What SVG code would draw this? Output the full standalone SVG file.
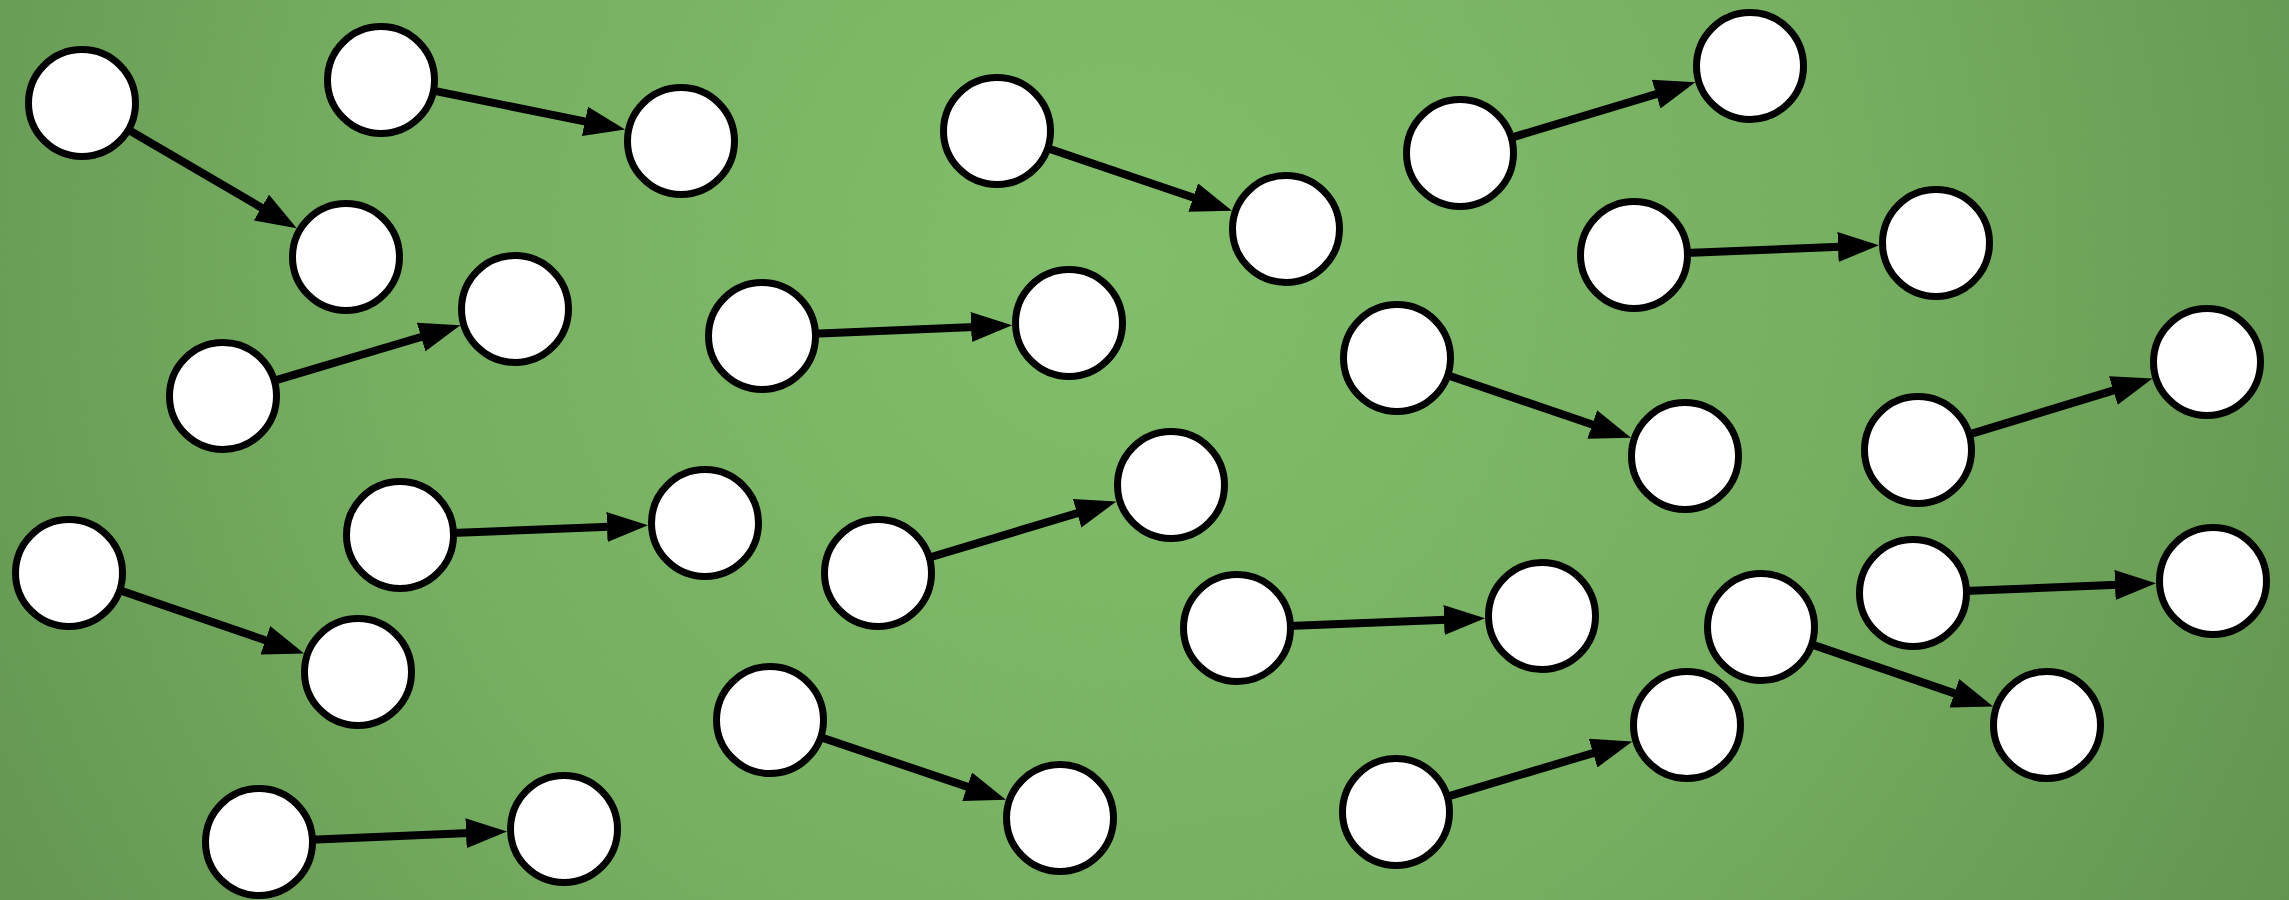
<svg xmlns="http://www.w3.org/2000/svg" width="2289" height="900" viewBox="0 0 2289 900">
<defs>
<radialGradient id="bg" cx="1120" cy="260" r="1350" gradientUnits="userSpaceOnUse">
<stop offset="0" stop-color="#80c168"/>
<stop offset="0.55" stop-color="#74b05e"/>
<stop offset="1" stop-color="#5f934c"/>
</radialGradient>
<filter id="noise" x="0" y="0" width="100%" height="100%">
<feTurbulence type="fractalNoise" baseFrequency="0.9" numOctaves="2" seed="3" result="t"/>
<feColorMatrix in="t" type="matrix" values="0 0 0 0 0.3  0 0 0 0 0.35  0 0 0 0 0.25  0 0 0 0.35 0"/>
</filter>
<marker id="arrow" markerUnits="userSpaceOnUse" markerWidth="41" markerHeight="30" refX="21" refY="15" orient="auto">
<path d="M0,0 L41,15 L0,30 z" fill="#000"/>
</marker>
<style>
.node{fill:#fff;stroke:#000;stroke-width:7}
.edge{stroke:#000;stroke-width:8;fill:none;marker-end:url(#arrow)}
</style>
</defs>
<rect width="2289" height="900" fill="url(#bg)"/>
<rect width="2289" height="900" filter="url(#noise)" opacity="0.35"/>
<g id="connectors">
<line class="edge" x1="127" y1="129" x2="279.5" y2="218.2"/>
<line class="edge" x1="432" y1="90.4" x2="605.5" y2="125.6"/>
<line class="edge" x1="272.8" y1="381.2" x2="441.2" y2="331"/>
<line class="edge" x1="814" y1="333.8" x2="992.1" y2="326.2"/>
<line class="edge" x1="1046.2" y1="147.7" x2="1213.1" y2="204.3"/>
<line class="edge" x1="1509.8" y1="138.1" x2="1676.2" y2="88.1"/>
<line class="edge" x1="1686" y1="252.9" x2="1859" y2="246.1"/>
<line class="edge" x1="1446.2" y1="374.8" x2="1612.1" y2="431.3"/>
<line class="edge" x1="1967.7" y1="434.9" x2="2133.4" y2="384.4"/>
<line class="edge" x1="452" y1="533" x2="628" y2="526.1"/>
<line class="edge" x1="118.2" y1="589.8" x2="285.2" y2="647.1"/>
<line class="edge" x1="927.8" y1="558" x2="1097.2" y2="507.2"/>
<line class="edge" x1="1289" y1="626" x2="1465" y2="619.1"/>
<line class="edge" x1="1965" y1="591" x2="2136" y2="584.1"/>
<line class="edge" x1="1810.2" y1="643.9" x2="1974.2" y2="700.1"/>
<line class="edge" x1="819.3" y1="736.7" x2="987" y2="793.4"/>
<line class="edge" x1="1445.8" y1="797.1" x2="1613.2" y2="747.1"/>
<line class="edge" x1="311" y1="839.8" x2="487" y2="832.3"/>
</g>
<g id="n1"><circle class="node" cx="82" cy="103" r="53.5"/></g>
<g id="n2"><circle class="node" cx="346" cy="257" r="53.5"/></g>
<g id="n3"><circle class="node" cx="381" cy="80" r="53.5"/></g>
<g id="n4"><circle class="node" cx="681" cy="141" r="53.5"/></g>
<g id="n5"><circle class="node" cx="223" cy="396" r="53.5"/></g>
<g id="n6"><circle class="node" cx="515" cy="309" r="53.5"/></g>
<g id="n7"><circle class="node" cx="762" cy="336" r="53.5"/></g>
<g id="n8"><circle class="node" cx="1069" cy="323" r="53.5"/></g>
<g id="n9"><circle class="node" cx="997" cy="131" r="53.5"/></g>
<g id="n10"><circle class="node" cx="1286" cy="229" r="53.5"/></g>
<g id="n11"><circle class="node" cx="1460" cy="153" r="53.5"/></g>
<g id="n12"><circle class="node" cx="1750" cy="66" r="53.5"/></g>
<g id="n13"><circle class="node" cx="1634" cy="255" r="53.5"/></g>
<g id="n14"><circle class="node" cx="1936" cy="243" r="53.5"/></g>
<g id="n15"><circle class="node" cx="1397" cy="358" r="53.5"/></g>
<g id="n16"><circle class="node" cx="1685" cy="456" r="53.5"/></g>
<g id="n17"><circle class="node" cx="1918" cy="450" r="53.5"/></g>
<g id="n18"><circle class="node" cx="2207" cy="362" r="53.5"/></g>
<g id="n19"><circle class="node" cx="400" cy="535" r="53.5"/></g>
<g id="n20"><circle class="node" cx="705" cy="523" r="53.5"/></g>
<g id="n21"><circle class="node" cx="69" cy="573" r="53.5"/></g>
<g id="n22"><circle class="node" cx="358" cy="672" r="53.5"/></g>
<g id="n23"><circle class="node" cx="878" cy="573" r="53.5"/></g>
<g id="n24"><circle class="node" cx="1171" cy="485" r="53.5"/></g>
<g id="n25"><circle class="node" cx="1237" cy="628" r="53.5"/></g>
<g id="n26"><circle class="node" cx="1542" cy="616" r="53.5"/></g>
<g id="n27"><circle class="node" cx="1913" cy="593" r="53.5"/></g>
<g id="n28"><circle class="node" cx="2213" cy="581" r="53.5"/></g>
<g id="n29"><circle class="node" cx="1761" cy="627" r="53.5"/></g>
<g id="n30"><circle class="node" cx="2047" cy="725" r="53.5"/></g>
<g id="n31"><circle class="node" cx="770" cy="720" r="53.5"/></g>
<g id="n32"><circle class="node" cx="1060" cy="818" r="53.5"/></g>
<g id="n33"><circle class="node" cx="1396" cy="812" r="53.5"/></g>
<g id="n34"><circle class="node" cx="1687" cy="725" r="53.5"/></g>
<g id="n35"><circle class="node" cx="259" cy="842" r="53.5"/></g>
<g id="n36"><circle class="node" cx="564" cy="829" r="53.5"/></g>
</svg>
